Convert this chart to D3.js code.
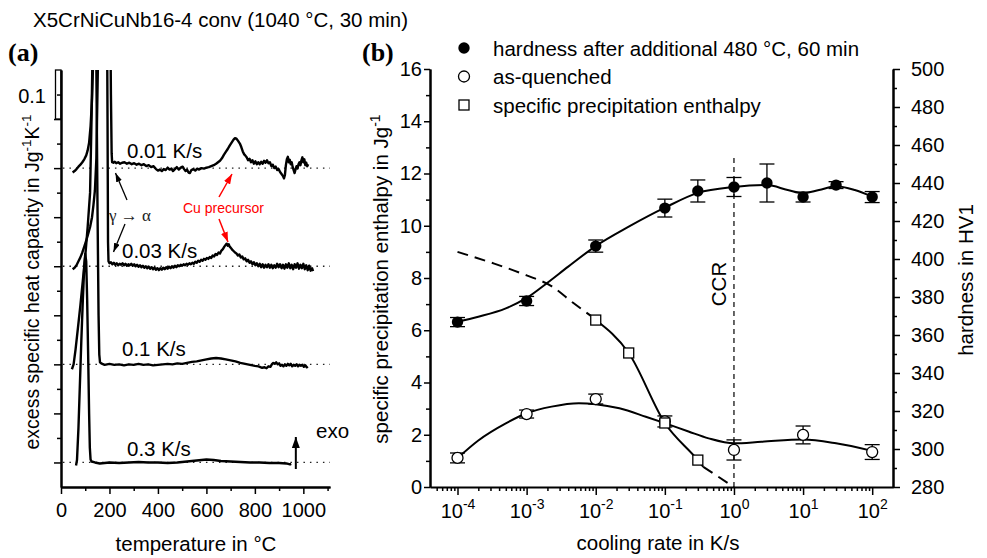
<!DOCTYPE html>
<html>
<head>
<meta charset="utf-8">
<script src="https://cdn.jsdelivr.net/npm/d3@7"></script>
<style>
  body { margin: 0; background: #fff; }
  svg { font-family: "Liberation Sans", Arial, sans-serif; }
</style>
</head>
<body>
<svg id="chart" width="987" height="558"></svg>
<script>
// ---------- panel (a): DSC curves, excess cp vs temperature ----------
const tempTicks = [0, 200, 400, 600, 800, 1000]
const tempMinorTicks = [100, 300, 500, 700, 900, 1100]
const cpMajorTicks = [0, 0.1, 0.2, 0.3, 0.4, 0.5, 0.6, 0.7]
const cpMinorTicks = [0.05, 0.15, 0.25, 0.35, 0.45, 0.55, 0.65, 0.75]
const scaleBar = [0.7, 0.8]
const rateLabels = ['0.01 K/s', '0.03 K/s', '0.1 K/s', '0.3 K/s']
const curveOffsets = [0.6, 0.4, 0.2, 0]

// [temperature °C, excess cp relative to the curve's own baseline]
const cp001 = [[48,-0.009],[56,-0.006],[64,-0.002],[72,0.003],[80,0.007],[88,0.012],[96,0.018],[104,0.026],[110,0.036],[116,0.052],[122,0.085],[128,0.14],[134,0.24],[142,0.4],[155,0.62],[175,0.8],[195,0.7],[202,0.4],[206,0.15],[209,0.03],[211,0.012],
  [216,0.011],[222,0.013],[228,0.01],[236,0.012],[244,0.009],[252,0.011],[262,0.012],[272,0.009],[282,0.011],[292,0.008],[302,0.01],[312,0.007],[322,0.009],[332,0.006],[342,0.008],[352,0.004],[362,0.006],[372,0.002],[382,0.004],[392,-0.002],[400,-0.005],[408,-0.003],[416,-0.006],[424,-0.002],[432,-0.004],[440,0.001],[448,-0.003],[456,-0.001],[462,-0.006],[470,-0.002],[478,0.002],[486,-0.003],[494,0.001],[502,0.003],[508,-0.002],[514,-0.006],[520,-0.003],[526,-0.009],[532,-0.01],[538,-0.004],[546,-0.002],[554,-0.005],[562,-0.001],[570,-0.003],[580,0.0],[590,-0.001],[600,0.001],[610,0.002],[620,0.004],[630,0.006],[640,0.009],[648,0.012],[656,0.015],[664,0.02],[672,0.027],[680,0.033],[688,0.039],[696,0.046],[704,0.052],[712,0.058],[718,0.061],[724,0.06],[730,0.056],[738,0.05],[744,0.043],[750,0.034],[756,0.028],[760,0.026],[766,0.022],[772,0.016],[778,0.019],[784,0.012],[790,0.016],[796,0.009],[802,0.014],[808,0.008],[814,0.012],[820,0.008],[826,0.013],[832,0.009],[838,0.015],[844,0.011],[850,0.016],[856,0.01],[862,0.012],[868,0.004],[874,0.007],[880,0.0],[886,0.003],[892,-0.004],[898,-0.002],[904,-0.008],[910,-0.012],[916,-0.016],[920,-0.021],[924,-0.014],[928,0.006],[932,0.018],[936,0.023],[940,0.012],[944,0.017],[948,0.008],[952,0.012],[956,0.002],[960,-0.004],[964,-0.01],[968,-0.002],[972,0.004],[976,-0.001],[980,0.008],[984,0.012],[988,0.006],[992,0.016],[996,0.022],[1000,0.012],[1004,0.018],[1008,0.006],[1012,0.011],[1016,0.004],[1020,0.008]]

const cp003 = [[48,-0.006],[56,-0.003],[64,0.002],[72,0.01],[80,0.018],[88,0.028],[96,0.04],[104,0.052],[112,0.066],[120,0.08],[128,0.1],[134,0.125],[140,0.155],[146,0.22],[152,0.4],[160,0.7],[175,0.9],[188,0.7],[192,0.3],[194,0.05],[196,0.01],
  [200,0.006],[206,0.008],[212,0.004],[218,0.007],[224,0.003],[230,0.006],[236,0.002],[242,0.005],[248,0.003],[254,0.006],[260,0.002],[266,0.005],[272,0.001],[278,0.004],[284,0.002],[290,0.005],[296,0.001],[302,0.004],[308,0.0],[314,0.003],[320,-0.001],[326,0.002],[332,-0.002],[338,0.001],[344,-0.003],[350,0.0],[356,-0.004],[362,-0.001],[368,-0.005],[374,-0.002],[380,-0.006],[386,-0.003],[392,-0.007],[398,-0.004],[404,-0.008],[410,-0.004],[416,-0.007],[422,-0.003],[428,-0.006],[434,-0.002],[440,-0.005],[446,-0.001],[452,-0.004],[458,0.0],[464,-0.003],[470,0.001],[476,-0.002],[482,0.002],[488,0.0],[494,0.003],[500,0.001],[506,0.004],[512,0.002],[518,0.005],[524,0.003],[530,0.006],[536,0.004],[542,0.007],[548,0.005],[554,0.009],[560,0.007],[566,0.011],[572,0.009],[578,0.013],[584,0.011],[590,0.015],[596,0.013],[602,0.017],[608,0.015],[614,0.019],[620,0.017],[626,0.022],[632,0.02],[638,0.025],[644,0.023],[650,0.028],[656,0.026],[662,0.032],[668,0.035],[674,0.04],[680,0.044],[684,0.046],[688,0.042],[692,0.045],[696,0.04],[700,0.038],[706,0.034],[712,0.031],[718,0.028],[724,0.026],[730,0.022],[736,0.024],[742,0.018],[748,0.02],[754,0.014],[760,0.016],[766,0.01],[772,0.013],[778,0.007],[784,0.01],[790,0.004],[796,0.008],[802,0.002],[808,0.006],[814,0.0],[820,0.005],[826,-0.002],[832,0.004],[838,-0.003],[844,0.003],[850,-0.002],[856,0.004],[862,-0.003],[868,0.003],[874,-0.004],[880,0.002],[886,-0.003],[892,0.005],[898,-0.002],[904,0.004],[910,-0.004],[916,0.003],[922,-0.005],[928,0.004],[934,-0.003],[940,0.006],[946,-0.004],[952,0.003],[958,-0.006],[964,0.004],[970,-0.003],[976,0.006],[982,-0.005],[988,0.003],[994,-0.004],[1000,0.005],[1006,-0.006],[1012,0.002],[1018,-0.008],[1024,0.001],[1030,-0.009],[1036,-0.004],[1040,-0.01]]

const cp01 = [[45,-0.01],[52,0.0],[60,0.03],[70,0.075],[80,0.12],[90,0.17],[100,0.22],[110,0.28],[120,0.35],[126,0.5],[132,0.7],[140,0.85],[146,0.6],[151,0.3],[155,0.1],[158,0.02],[161,0.004],
  [166,0.002],[180,-0.001],[200,0.001],[220,-0.001],[240,0.0],[260,-0.002],[280,0.0],[300,-0.001],[320,0.001],[340,-0.001],[360,0.0],[380,-0.002],[400,-0.001],[420,0.0],[440,0.001],[460,0.0],[480,0.002],[500,0.001],[520,0.003],[540,0.005],[560,0.006],[580,0.008],[600,0.01],[620,0.012],[640,0.013],[660,0.012],[680,0.01],[700,0.008],[720,0.006],[740,0.003],[760,0.001],[780,-0.001],[800,-0.003],[815,-0.004],[830,-0.007],[840,-0.006],[848,-0.008],[856,-0.004],[864,-0.005],[870,0.0],[876,0.003],[882,0.001],[888,0.004],[894,0.0],[900,0.002],[906,-0.003],[912,-0.001],[918,-0.004],[924,0.0],[930,-0.003],[936,0.001],[942,-0.002],[948,0.001],[954,-0.004],[960,-0.001],[966,-0.003],[972,0.0],[978,-0.004],[984,-0.001],[990,-0.003],[996,-0.001],[1002,-0.005],[1008,-0.002],[1014,-0.006],[1018,-0.004]]

const cp03 = [[62,-0.006],[66,0.005],[72,0.07],[78,0.16],[84,0.25],[90,0.33],[96,0.4],[100,0.425],[104,0.41],[108,0.33],[112,0.22],[116,0.1],[119,0.03],[122,0.006],[126,0.002],[140,0.0],[160,-0.002],[200,0.0],[240,-0.001],[280,0.0],[320,0.001],[360,0.0],[400,0.0],[440,-0.001],[480,0.0],[520,0.002],[560,0.004],[600,0.006],[630,0.005],[660,0.003],[700,0.002],[740,0.001],[780,0.0],[820,0.0],[860,-0.001],[900,-0.001],[930,-0.002],[945,-0.004],[950,-0.003]]

const cpCurves = [cp001, cp003, cp01, cp03]

// ---------- panel (b): hardness and precipitation enthalpy vs cooling rate ----------
const rateTicks = [1e-4, 1e-3, 1e-2, 1e-1, 1, 10, 100]
const rateExponents = ['-4', '-3', '-2', '-1', '0', '1', '2']
const enthalpyTicks = [0, 2, 4, 6, 8, 10, 12, 14, 16]
const enthalpyMinorTicks = [1, 3, 5, 7, 9, 11, 13, 15]
const hardnessTicks = [280, 300, 320, 340, 360, 380, 400, 420, 440, 460, 480, 500]
const hardnessMinorTicks = [290, 310, 330, 350, 370, 390, 410, 430, 450, 470, 490]

const agedRates = [1e-4, 1e-3, 1e-2, 1e-1, 3e-1, 1, 3, 10, 30, 100]
const agedHardness = [366.8, 377.9, 406.8, 426.8, 435.8, 437.9, 440.0, 432.6, 438.9, 432.6]
const agedError = [2.4, 2.4, 3.2, 4.7, 5.8, 5.0, 10.0, 2.6, 1.8, 2.9]

const quenchedRates = [1e-4, 1e-3, 1e-2, 1e-1, 1, 10, 100]
const quenchedHardness = [295.3, 318.4, 326.3, 314.5, 299.5, 307.4, 298.4]
const quenchedError = [2.6, 2.1, 2.6, 2.9, 5.3, 4.7, 3.9]

const enthalpyRates = [1e-2, 3e-2, 1e-1, 3e-1]
const enthalpyValues = [6.39, 5.13, 2.45, 1.03]

// fitted curves: [cooling rate, value]
const agedFit = [[1e-4,367],[2e-4,369.6],[5e-4,374],[1e-3,379.5],[2e-3,387.5],[4e-3,396],[1e-2,406.8],[3e-2,417],[1e-1,427],[0.3,434.8],[1,437.9],[3,438.9],[6,436.3],[10,434.6],[17,436.3],[30,438.3],[56,436.3],[100,432.8]]
const quenchedFit = [[1e-4,295.2],[2e-4,304.5],[5e-4,313.5],[1e-3,318.8],[2.3e-3,322.3],[5.7e-3,324.1],[1e-2,323.6],[2.2e-2,321.4],[5.3e-2,317],[0.1,313.6],[0.22,309.2],[0.43,305.6],[1,303],[2.5,303.8],[10,305],[30,303],[100,299]]
const enthalpyFitLow = [[1e-4,9.0],[3.4e-4,8.55],[1e-3,8.1],[2.25e-3,7.7],[4.7e-3,7.05],[8.5e-3,6.55]]
const enthalpyFitMid = [[1e-2,6.39],[3e-2,5.13],[1e-1,2.45],[3e-1,1.03],[3.6e-1,0.77]]
const enthalpyFitHigh = [[3.6e-1,0.77],[1,0]]
const ccrRate = 1

const legendLabels = ['hardness after additional 480 °C, 60 min', 'as-quenched', 'specific precipitation enthalpy']

const svg = d3.select('#chart')
const defs = svg.append('defs')

const addHead = (id, color, w, h) => {
    defs.append('marker')
        .attr('id', id)
        .attr('viewBox', '0 0 10 10')
        .attr('refX', 10).attr('refY', 5)
        .attr('markerWidth', w).attr('markerHeight', h)
        .attr('markerUnits', 'userSpaceOnUse')
        .attr('preserveAspectRatio', 'none')
        .attr('orient', 'auto')
        .append('path')
        .attr('d', 'M0,0L10,5L0,10Z')
        .attr('fill', color)
}
addHead('headBlack', '#000', 9, 6)
addHead('headRed', '#f00', 10, 7)
addHead('headExo', '#000', 11, 8)

const styleAxis = (g, size) => {
    g.attr('font-size', size).attr('font-family', null)
    g.select('.domain').attr('stroke-width', 2)
    g.selectAll('.tick line').attr('stroke-width', 1.5)
}

const drawPanelA = () => {
    const x = d3.scaleLinear().domain([0, 1110]).range([61, 330])
    const y = d3.scaleLinear().domain([-0.05, 0.8]).range([487, 70])

    svg.append('text').attr('x', 33).attr('y', 27).attr('font-size', 20.5)
        .text('X5CrNiCuNb16-4 conv (1040 °C, 30 min)')
    svg.append('text').attr('x', 8).attr('y', 61).attr('font-size', 26)
        .attr('font-family', '"Liberation Serif", "Times New Roman", serif').attr('font-weight', 'bold')
        .text('(a)')

    defs.append('clipPath').attr('id', 'clipA').append('rect')
        .attr('x', 61).attr('y', 70).attr('width', 270).attr('height', 417)

    // dotted baselines
    svg.selectAll('.baseA')
        .data(curveOffsets)
        .join('line')
        .attr('class', 'baseA')
        .attr('x1', x(8)).attr('x2', x(1110))
        .attr('y1', d => y(d)).attr('y2', d => y(d))
        .attr('stroke', '#222').attr('stroke-width', 1.3)
        .attr('stroke-dasharray', '1.5,5')

    const line = d3.line().x(d => x(d[0])).y(d => y(d[1]))
    svg.append('g').attr('clip-path', 'url(#clipA)')
        .selectAll('path')
        .data(cpCurves)
        .join('path')
        .attr('d', (d, i) => line(d.map(p => [p[0], p[1] + curveOffsets[i]])))
        .attr('fill', 'none')
        .attr('stroke', '#000')
        .attr('stroke-width', 2.4)
        .attr('stroke-linejoin', 'round')

    // scale bar
    svg.append('rect')
        .attr('x', 55.5).attr('y', y(scaleBar[1]))
        .attr('width', 5.5).attr('height', y(scaleBar[0]) - y(scaleBar[1]))
        .attr('fill', '#fff').attr('stroke', '#000').attr('stroke-width', 1.3)
    svg.append('text').attr('x', 46).attr('y', 103).attr('text-anchor', 'end')
        .attr('font-size', 20).text((scaleBar[1] - scaleBar[0]).toFixed(1))

    const gx = svg.append('g').attr('transform', 'translate(0,487)')
        .call(d3.axisBottom(x).tickValues(tempTicks).tickSize(7).tickSizeOuter(0).tickFormat(d3.format('d')))
    styleAxis(gx, 20)
    gx.selectAll('text').attr('dy', null).attr('y', 30)
    const gxm = svg.append('g').attr('transform', 'translate(0,487)')
        .call(d3.axisBottom(x).tickValues(tempMinorTicks).tickSize(4).tickSizeOuter(0).tickFormat(''))
    styleAxis(gxm, 20)

    const gy = svg.append('g').attr('transform', 'translate(61,0)')
        .call(d3.axisLeft(y).tickValues(cpMajorTicks).tickSize(7).tickSizeOuter(0).tickFormat(''))
    styleAxis(gy, 20)
    const gym = svg.append('g').attr('transform', 'translate(61,0)')
        .call(d3.axisLeft(y).tickValues(cpMinorTicks).tickSize(4).tickSizeOuter(0).tickFormat(''))
    styleAxis(gym, 20)

    svg.append('text').attr('x', 196).attr('y', 551).attr('text-anchor', 'middle')
        .attr('font-size', 20.5).text('temperature in °C')

    const yl = svg.append('text').attr('transform', 'translate(39,282) rotate(-90)')
        .attr('text-anchor', 'middle').attr('font-size', 19.5)
    yl.append('tspan').text('excess specific heat capacity in Jg')
    yl.append('tspan').attr('dy', -8).attr('font-size', 13.5).text('-1')
    yl.append('tspan').attr('dy', 8).text('K')
    yl.append('tspan').attr('dy', -8).attr('font-size', 13.5).text('-1')

    // curve labels
    const labelPos = [[127, 158], [122, 258], [122, 356], [127, 456]]
    svg.selectAll('.rateLabel')
        .data(rateLabels)
        .join('text')
        .attr('class', 'rateLabel')
        .attr('x', (d, i) => labelPos[i][0])
        .attr('y', (d, i) => labelPos[i][1])
        .attr('font-size', 20.5)
        .text(d => d)

    // annotations
    svg.append('text').attr('x', 109).attr('y', 221).attr('font-size', 17)
        .attr('font-family', '"Liberation Serif", "Times New Roman", serif').attr('fill', '#222')
        .text('γ → α')
    const arrow = (x1, y1, x2, y2, head, color, w) => svg.append('line')
        .attr('x1', x1).attr('y1', y1).attr('x2', x2).attr('y2', y2)
        .attr('stroke', color).attr('stroke-width', w)
        .attr('marker-end', `url(#${head})`)
    arrow(127, 200, 115.5, 173, 'headBlack', '#000', 1.3)
    arrow(125, 224, 113.5, 252, 'headBlack', '#000', 1.3)
    arrow(219, 197, 232, 174, 'headRed', '#f00', 1.5)
    arrow(219, 219, 228, 242, 'headRed', '#f00', 1.5)
    arrow(x(969), 469, x(969), 437, 'headExo', '#000', 2)

    svg.append('text').attr('x', 183).attr('y', 213).attr('font-size', 14)
        .attr('fill', '#f00').text('Cu precursor')
    svg.append('text').attr('x', 316).attr('y', 438).attr('font-size', 20.5).text('exo')
}

const drawPanelB = () => {
    const x = d3.scaleLog().domain([4e-5, 200]).range([430, 893])
    const yL = d3.scaleLinear().domain([0, 16]).range([487, 69])
    const yR = d3.scaleLinear().domain([280, 500]).range([487, 69])

    svg.append('text').attr('x', 362).attr('y', 61).attr('font-size', 26)
        .attr('font-family', '"Liberation Serif", "Times New Roman", serif').attr('font-weight', 'bold')
        .text('(b)')

    // CCR line
    svg.append('line')
        .attr('x1', x(ccrRate)).attr('x2', x(ccrRate))
        .attr('y1', 158).attr('y2', 487)
        .attr('stroke', '#000').attr('stroke-width', 1.2)
        .attr('stroke-dasharray', '5,4')
    svg.append('text').attr('transform', `translate(${x(ccrRate) - 8},284) rotate(-90)`)
        .attr('text-anchor', 'middle').attr('font-size', 20.5).text('CCR')

    // fitted curves
    const lineR = d3.line().x(d => x(d[0])).y(d => yR(d[1])).curve(d3.curveMonotoneX)
    const lineL = d3.line().x(d => x(d[0])).y(d => yL(d[1])).curve(d3.curveMonotoneX)
    const fit = (d, dash) => svg.append('path').attr('d', d)
        .attr('fill', 'none').attr('stroke', '#000').attr('stroke-width', 2)
        .attr('stroke-dasharray', dash)
    fit(lineR(agedFit), null)
    fit(lineR(quenchedFit), null)
    fit(lineL(enthalpyFitLow), '11,7')
    fit(lineL(enthalpyFitMid), null)
    fit(lineL(enthalpyFitHigh), '11,7')

    // error bars
    const errorBars = (rates, vals, errs) => {
        const g = svg.append('g').attr('stroke', '#000').attr('stroke-width', 1.3)
        rates.forEach((r, i) => {
            const cx = x(r), top = yR(vals[i] + errs[i]), bot = yR(vals[i] - errs[i])
            g.append('line').attr('x1', cx).attr('x2', cx).attr('y1', top).attr('y2', bot)
            g.append('line').attr('x1', cx - 7.5).attr('x2', cx + 7.5).attr('y1', top).attr('y2', top)
            g.append('line').attr('x1', cx - 7.5).attr('x2', cx + 7.5).attr('y1', bot).attr('y2', bot)
        })
    }
    errorBars(agedRates, agedHardness, agedError)
    errorBars(quenchedRates, quenchedHardness, quenchedError)

    svg.selectAll('.aged')
        .data(agedRates)
        .join('circle')
        .attr('class', 'aged')
        .attr('cx', d => x(d))
        .attr('cy', (d, i) => yR(agedHardness[i]))
        .attr('r', 5.7)
        .attr('fill', '#000')

    svg.selectAll('.quenched')
        .data(quenchedRates)
        .join('circle')
        .attr('class', 'quenched')
        .attr('cx', d => x(d))
        .attr('cy', (d, i) => yR(quenchedHardness[i]))
        .attr('r', 5.5)
        .attr('fill', '#fff').attr('stroke', '#000').attr('stroke-width', 1.3)

    svg.selectAll('.enth')
        .data(enthalpyRates)
        .join('rect')
        .attr('class', 'enth')
        .attr('x', d => x(d) - 5)
        .attr('y', (d, i) => yL(enthalpyValues[i]) - 5)
        .attr('width', 10).attr('height', 10)
        .attr('fill', '#fff').attr('stroke', '#000').attr('stroke-width', 1.3)

    // axes
    const gx = svg.append('g').attr('transform', 'translate(0,487)')
        .call(d3.axisBottom(x).tickValues(rateTicks).tickSize(8).tickSizeOuter(0).tickFormat(''))
    styleAxis(gx, 20)
    gx.selectAll('.tick').append('text')
        .attr('fill', '#000')
        .attr('y', 31)
        .attr('text-anchor', 'middle')
        .each(function (d, i) {
            const t = d3.select(this)
            t.append('tspan').text('10')
            t.append('tspan').attr('dy', -9).attr('font-size', 14).text(rateExponents[i])
        })
    const minor = x.ticks().filter(d => !rateTicks.includes(d) && d > 4e-5 && d < 200)
    const gxm = svg.append('g').attr('transform', 'translate(0,487)')
        .call(d3.axisBottom(x).tickValues(minor).tickSize(4).tickSizeOuter(0).tickFormat(''))
    styleAxis(gxm, 20)
    gxm.select('.domain').remove()

    const gl = svg.append('g').attr('transform', 'translate(430,0)')
        .call(d3.axisLeft(yL).tickValues(enthalpyTicks).tickSize(6).tickPadding(2).tickSizeOuter(0))
    styleAxis(gl, 20)
    const glm = svg.append('g').attr('transform', 'translate(430,0)')
        .call(d3.axisLeft(yL).tickValues(enthalpyMinorTicks).tickSize(4).tickSizeOuter(0).tickFormat(''))
    styleAxis(glm, 20)

    const gr = svg.append('g').attr('transform', 'translate(893,0)')
        .call(d3.axisRight(yR).tickValues(hardnessTicks).tickSize(7).tickPadding(11).tickSizeOuter(0))
    styleAxis(gr, 20)
    const grm = svg.append('g').attr('transform', 'translate(893,0)')
        .call(d3.axisRight(yR).tickValues(hardnessMinorTicks).tickSize(4).tickSizeOuter(0).tickFormat(''))
    styleAxis(grm, 20)

    svg.append('text').attr('x', 658).attr('y', 550).attr('text-anchor', 'middle')
        .attr('font-size', 20.5).text('cooling rate in K/s')

    const yl = svg.append('text').attr('transform', 'translate(388,279) rotate(-90)')
        .attr('text-anchor', 'middle').attr('font-size', 20.5)
    yl.append('tspan').text('specific precipitation enthalpy in Jg')
    yl.append('tspan').attr('dy', -8).attr('font-size', 14).text('-1')

    svg.append('text').attr('transform', 'translate(973,280) rotate(-90)')
        .attr('text-anchor', 'middle').attr('font-size', 20.5).text('hardness in HV1')

    // legend
    const legend = svg.append('g')
    legendLabels.forEach((label, i) => {
        const cy = 48 + i * 28.5
        if (i === 0) legend.append('circle').attr('cx', 464).attr('cy', cy).attr('r', 5.7).attr('fill', '#000')
        if (i === 1) legend.append('circle').attr('cx', 464).attr('cy', cy).attr('r', 5.5)
            .attr('fill', '#fff').attr('stroke', '#000').attr('stroke-width', 1.3)
        if (i === 2) legend.append('rect').attr('x', 459).attr('y', cy - 5).attr('width', 10).attr('height', 10)
            .attr('fill', '#fff').attr('stroke', '#000').attr('stroke-width', 1.3)
        legend.append('text').attr('x', 493).attr('y', cy + 7.5).attr('font-size', 20.5).text(label)
    })
}

drawPanelA()
drawPanelB()
</script>
</body>
</html>
